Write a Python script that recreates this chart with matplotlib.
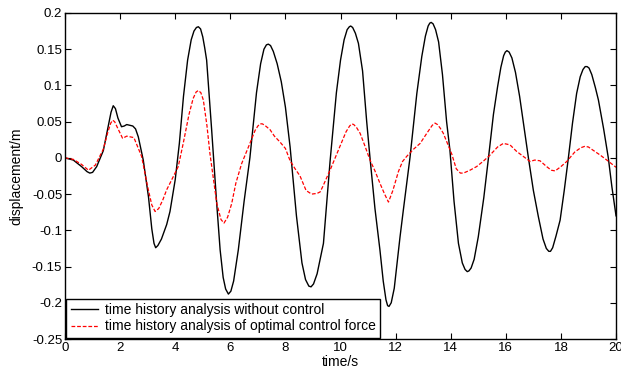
import numpy as np
import matplotlib.pyplot as plt

plt.rcParams["font.family"] = ["Liberation Sans", "DejaVu Sans"]

# black curve: response without control
t_free = [0, 0.3, 0.6, 0.8, 0.9, 1.0, 1.15, 1.39, 1.55, 1.67, 1.75, 1.83, 1.92, 2.05, 2.15,
          2.24, 2.35, 2.46, 2.56, 2.66, 2.84, 3.03, 3.15, 3.23, 3.29, 3.37, 3.5, 3.69, 3.81,
          4.0, 4.15, 4.3, 4.45, 4.58, 4.68, 4.77, 4.84, 4.92, 5.0, 5.07, 5.14, 5.32, 5.5,
          5.63, 5.74, 5.83, 5.93, 6.02, 6.12, 6.29, 6.5, 6.71, 6.95, 7.1, 7.22, 7.31, 7.38,
          7.46, 7.56, 7.7, 7.85, 8.0, 8.17, 8.4, 8.6, 8.73, 8.85, 8.93, 9.02, 9.15, 9.38,
          9.62, 9.85, 10.0, 10.13, 10.24, 10.32, 10.37, 10.44, 10.54, 10.65, 10.8, 10.95,
          11.07, 11.25, 11.43, 11.55, 11.65, 11.71, 11.76, 11.84, 11.95, 12.16, 12.28, 12.52,
          12.77, 12.95, 13.08, 13.18, 13.24, 13.29, 13.36, 13.45, 13.56, 13.7, 13.85, 13.97,
          14.12, 14.28, 14.42, 14.52, 14.6, 14.66, 14.74, 14.85, 15.0, 15.2, 15.37, 15.55,
          15.7, 15.82, 15.92, 15.98, 16.04, 16.12, 16.22, 16.35, 16.5, 16.65, 16.82, 17.0,
          17.18, 17.35, 17.47, 17.56, 17.62, 17.7, 17.82, 17.97, 18.12, 18.27, 18.42, 18.57,
          18.7, 18.8, 18.88, 18.95, 19.02, 19.12, 19.25, 19.36, 19.55, 19.72, 19.85, 20.0]
d_free = [0, -0.003, -0.012, -0.019, -0.021, -0.020, -0.012, 0.010, 0.040, 0.063, 0.072,
          0.068, 0.055, 0.043, 0.044, 0.046, 0.045, 0.044, 0.040, 0.029, -0.003, -0.054,
          -0.098, -0.118, -0.124, -0.121, -0.112, -0.092, -0.074, -0.030, 0.020, 0.085,
          0.135, 0.163, 0.175, 0.180, 0.181, 0.178, 0.167, 0.152, 0.135, 0.040, -0.060,
          -0.127, -0.165, -0.181, -0.188, -0.184, -0.170, -0.127, -0.060, 0.000, 0.090,
          0.130, 0.150, 0.156, 0.157, 0.155, 0.147, 0.130, 0.105, 0.070, 0.015, -0.080,
          -0.145, -0.168, -0.177, -0.178, -0.174, -0.160, -0.118, -0.005, 0.090, 0.135,
          0.163, 0.177, 0.181, 0.182, 0.180, 0.172, 0.158, 0.120, 0.050, 0.000, -0.070,
          -0.127, -0.170, -0.196, -0.204, -0.205, -0.200, -0.180, -0.109, -0.072, 0.000,
          0.089, 0.140, 0.168, 0.182, 0.186, 0.187, 0.185, 0.177, 0.160, 0.115, 0.050,
          0.011, -0.060, -0.118, -0.145, -0.154, -0.157, -0.156, -0.152, -0.140, -0.109,
          -0.055, 0.000, 0.060, 0.098, 0.125, 0.141, 0.146, 0.148, 0.146, 0.138, 0.118,
          0.085, 0.045, 0.000, -0.045, -0.081, -0.112, -0.125, -0.129, -0.129, -0.124,
          -0.108, -0.086, -0.045, 0.000, 0.048, 0.089, 0.112, 0.122, 0.126, 0.126, 0.124,
          0.115, 0.097, 0.080, 0.040, 0.000, -0.040, -0.080]

# red curve: response with optimal control force
t_ctrl = [0, 0.3, 0.6, 0.85, 1.1, 1.39, 1.55, 1.66, 1.73, 1.8, 1.9, 2.09, 2.24, 2.5, 2.78,
          3.0, 3.15, 3.27, 3.4, 3.55, 3.69, 3.81, 4.11, 4.29, 4.5, 4.65, 4.76, 4.84, 4.93,
          5.02, 5.15, 5.26, 5.51, 5.66, 5.77, 5.9, 6.05, 6.2, 6.41, 6.71, 6.9, 7.0, 7.08,
          7.16, 7.25, 7.44, 7.6, 7.8, 8.0, 8.17, 8.35, 8.53, 8.75, 8.95, 9.15, 9.26, 9.35,
          9.62, 9.98, 10.2, 10.33, 10.41, 10.48, 10.58, 10.71, 10.9, 11.07, 11.25, 11.43,
          11.6, 11.74, 11.9, 12.1, 12.25, 12.4, 12.65, 12.89, 13.15, 13.33, 13.43, 13.52,
          13.62, 13.73, 13.88, 14.04, 14.2, 14.35, 14.46, 14.7, 14.94, 15.2, 15.43, 15.7,
          15.91, 16.15, 16.39, 16.6, 16.88, 17.05, 17.24, 17.48, 17.65, 17.79, 18.0, 18.21,
          18.5, 18.72, 18.87, 19.0, 19.15, 19.42, 19.7, 20.0]
d_ctrl = [0, -0.002, -0.009, -0.017, -0.010, 0.012, 0.035, 0.048, 0.052, 0.050, 0.042,
          0.027, 0.030, 0.028, 0.002, -0.040, -0.065, -0.074, -0.070, -0.058, -0.044,
          -0.035, -0.012, 0.020, 0.060, 0.082, 0.091, 0.093, 0.090, 0.080, 0.045, 0.006,
          -0.063, -0.085, -0.090, -0.082, -0.063, -0.035, -0.008, 0.020, 0.038, 0.044,
          0.047, 0.047, 0.045, 0.039, 0.030, 0.022, 0.013, -0.004, -0.015, -0.025, -0.045,
          -0.050, -0.049, -0.047, -0.040, -0.017, 0.016, 0.036, 0.044, 0.047, 0.046, 0.042,
          0.034, 0.015, -0.003, -0.018, -0.035, -0.050, -0.061, -0.045, -0.019, -0.005,
          0.002, 0.012, 0.020, 0.035, 0.045, 0.048, 0.046, 0.041, 0.034, 0.020, 0.005,
          -0.015, -0.021, -0.021, -0.017, -0.012, -0.004, 0.004, 0.015, 0.020, 0.018,
          0.009, 0.003, -0.005, -0.003, -0.004, -0.012, -0.017, -0.018, -0.012, -0.005,
          0.008, 0.014, 0.016, 0.015, 0.011, 0.004, -0.004, -0.013]

x_ticks = np.arange(0, 21, 2)
y_ticks = [-0.25, -0.2, -0.15, -0.1, -0.05, 0, 0.05, 0.1, 0.15, 0.2]
y_labels = ["-0.25", "-0.2", "-0.15", "-0.1", "-0.05", "0", "0.05", "0.1", "0.15", "0.2"]

fig = plt.figure(figsize=(6.21, 3.69), dpi=100)
ax = fig.add_axes([0.1047, 0.0813, 0.8873, 0.8835])

ax.plot(t_free, d_free, color="black", lw=1.0,
        label="time history analysis without control")
ax.plot(t_ctrl, d_ctrl, color="red", lw=0.9, ls=(0, (3, 1.5)),
        label="time history analysis of optimal control force")

ax.set_xlim(0, 20)
ax.set_ylim(-0.25, 0.2)
ax.set_xticks(x_ticks)
ax.set_yticks(y_ticks)
ax.set_yticklabels(y_labels)
ax.tick_params(direction="in", top=True, right=True, labelsize=9.5, length=4, pad=2)
for s in ax.spines.values():
    s.set_linewidth(1.0)

ax.set_xlabel("time/s", fontsize=10, labelpad=1)
ax.set_ylabel("displacement/m", fontsize=10, labelpad=6)

leg = ax.legend(loc="lower left", fontsize=10, fancybox=False, framealpha=1,
                edgecolor="black", borderaxespad=0.1, handlelength=2.0,
                handletextpad=0.5, borderpad=0.3, labelspacing=0.2)
leg.get_frame().set_linewidth(1.0)

fig.savefig("out.png", dpi=100)
